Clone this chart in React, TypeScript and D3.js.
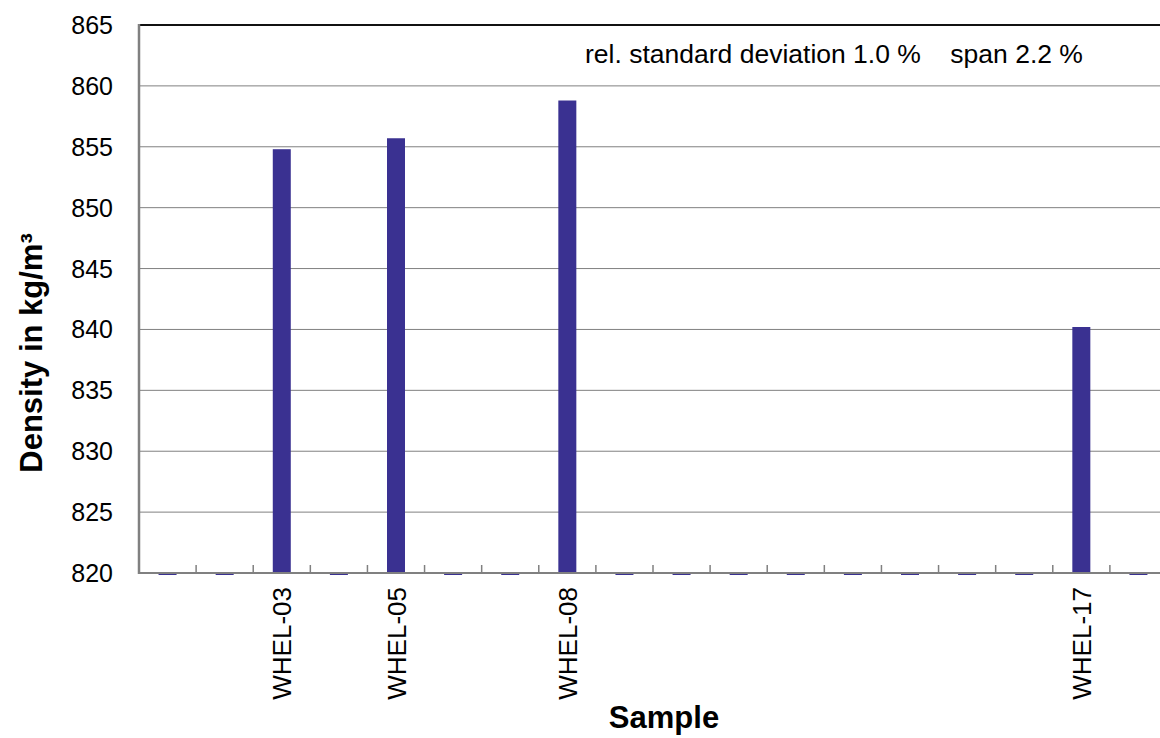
import React from "react";
import * as d3 from "d3";

const categories = Array.from({ length: 18 }, (_, i) => `WHEL-${String(i + 1).padStart(2, "0")}`);
const densityValues: (number | null)[] = [
  null, null, 854.8, null, 855.7, null, null, 858.8, null,
  null, null, null, null, null, null, null, 840.2, null,
];
const yTicks = [820, 825, 830, 835, 840, 845, 850, 855, 860, 865];
const annotation = "rel. standard deviation 1.0 %    span 2.2 %";
const yTitle = "Density in kg/m³";
const xTitle = "Sample";

const W = 1160;
const H = 738;
const M = { left: 139, right: 1167, top: 25, bottom: 573 };
const FONT = "'Liberation Sans', Arial, Helvetica, sans-serif";
const BAR = "#3a3191";
const GRID = "#808080";

export default function App() {
  const x = d3.scaleBand<string>().domain(categories).range([M.left, M.right]).paddingInner(0).paddingOuter(0);
  const y = d3.scaleLinear().domain([820, 865]).range([M.bottom, M.top]);
  const bw = 18;

  return (
    <svg width={W} height={H} style={{ position: "absolute", left: 0, top: 0, background: "#fff" }}>
      <rect x={0} y={0} width={W} height={H} fill="#fff" />
      {yTicks.slice(1, -1).map((t) => (
        <line key={t} x1={M.left} x2={M.right} y1={y(t)} y2={y(t)} stroke={GRID} strokeWidth={1} />
      ))}
      {categories.map((c, i) =>
        i > 0 ? (
          <line key={c} x1={x(c)!} x2={x(c)!} y1={M.bottom - 8} y2={M.bottom} stroke={GRID} strokeWidth={1.5} />
        ) : null
      )}
      {categories.map((c, i) => {
        const v = densityValues[i];
        const cx = x(c)! + x.bandwidth() / 2;
        if (v == null) {
          return <rect key={c} x={cx - bw / 2} y={M.bottom} width={bw} height={2} fill={BAR} />;
        }
        return <rect key={c} x={cx - bw / 2} y={y(v)} width={bw} height={M.bottom - y(v)} fill={BAR} />;
      })}
      <line x1={M.left} x2={M.right} y1={M.top} y2={M.top} stroke="#111" strokeWidth={2} />
      <line x1={M.left} x2={M.left} y1={M.top - 1} y2={M.bottom + 1} stroke={GRID} strokeWidth={2.5} />
      <line x1={M.left - 1} x2={M.right} y1={M.bottom} y2={M.bottom} stroke={GRID} strokeWidth={2} />
      {yTicks.map((t) => (
        <text key={t} x={113} y={y(t)} dy="0.36em" textAnchor="end" fontFamily={FONT} fontSize={25} fill="#000">
          {t}
        </text>
      ))}
      {categories.map((c, i) =>
        densityValues[i] != null ? (
          <text
            key={c}
            transform={`translate(${x(c)! + x.bandwidth() / 2 + 9.5},587) rotate(-90)`}
            textAnchor="end"
            fontFamily={FONT}
            fontSize={26}
            fill="#000"
          >
            {c}
          </text>
        ) : null
      )}
      <text x={585} y={63} fontFamily={FONT} fontSize={26.5} fill="#000" style={{ whiteSpace: "pre" }}>
        {annotation}
      </text>
      <text
        transform={`translate(41.5,353) rotate(-90)`}
        textAnchor="middle"
        fontFamily={FONT}
        fontSize={31}
        fontWeight="bold"
        fill="#000"
      >
        {yTitle}
      </text>
      <text x={664} y={728} textAnchor="middle" fontFamily={FONT} fontSize={31} fontWeight="bold" fill="#000">
        {xTitle}
      </text>
    </svg>
  );
}
